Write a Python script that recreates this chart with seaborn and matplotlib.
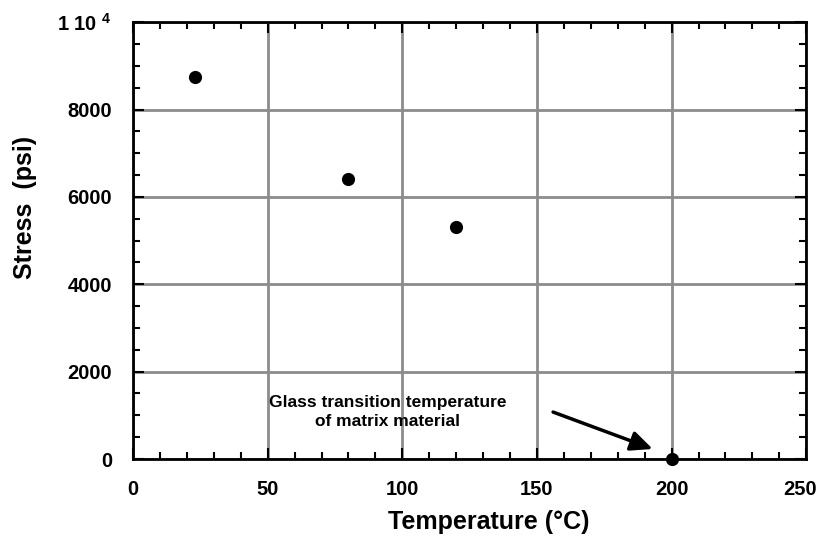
import matplotlib
matplotlib.use("Agg")
import matplotlib.pyplot as plt
import matplotlib.transforms as mtransforms
import seaborn as sns
import pandas as pd
from matplotlib.ticker import MultipleLocator, FixedLocator, FixedFormatter

temperature = [23, 80, 120, 200]
stress = [8750, 6400, 5300, 0]
y_ticks = [0, 2000, 4000, 6000, 8000, 10000]
y_tick_labels = ["0", "2000", "4000", "6000", "8000", "1 10 $^{4}$"]
x_ticks = [0, 50, 100, 150, 200, 250]

sns.set_theme(style="white")
plt.rcParams['font.family'] = ['Liberation Sans', 'DejaVu Sans']
plt.rcParams['mathtext.fontset'] = 'custom'
plt.rcParams['mathtext.rm'] = 'Liberation Sans:bold'
plt.rcParams['mathtext.default'] = 'rm'
for k in ['text.color', 'axes.labelcolor', 'xtick.color', 'ytick.color']:
    plt.rcParams[k] = 'black'

df = pd.DataFrame({"Temperature": temperature, "Stress": stress})

fig = plt.figure(figsize=(8.21, 5.38), dpi=100)
ax = fig.add_axes([0.162, 0.1468, 0.820, 0.812])

sns.scatterplot(data=df, x="Temperature", y="Stress", ax=ax, color="black",
                s=90, edgecolor="black", linewidth=0, clip_on=False, zorder=5)

ax.set_xlim(0, 250)
ax.set_ylim(0, 10000)
ax.xaxis.set_major_locator(FixedLocator(x_ticks))
ax.xaxis.set_minor_locator(MultipleLocator(10))
ax.yaxis.set_major_locator(FixedLocator(y_ticks))
ax.yaxis.set_major_formatter(FixedFormatter(y_tick_labels))
ax.yaxis.set_minor_locator(MultipleLocator(500))

ax.grid(True, which="major", color="#8c8c8c", linewidth=2)
ax.set_axisbelow(True)
for sp in ax.spines.values():
    sp.set_color("black")
    sp.set_linewidth(2)

ax.tick_params(which="both", direction="in", top=True, right=True,
               bottom=True, left=True, color="black", width=1.5)
ax.tick_params(which="major", length=8, labelsize=14.5, pad=15)
ax.tick_params(which="minor", length=5)
for lbl in ax.get_xticklabels() + ax.get_yticklabels():
    lbl.set_fontweight("bold")

# nudge the last x tick label so it stays inside the figure
last = ax.xaxis.get_major_ticks()[-1].label1
last.set_transform(last.get_transform() +
                   mtransforms.ScaledTranslation(-6 / 100, 0, fig.dpi_scale_trans))

ax.set_xlabel("Temperature (°C)", fontsize=18, fontweight="bold")
ax.set_ylabel("Stress  (psi)", fontsize=18, fontweight="bold")
ax.xaxis.set_label_coords(0.528, -0.117)
ax.yaxis.set_label_coords(-0.142, 0.575)

ax.annotate("", xy=(193, 230), xytext=(156, 1075),
            arrowprops=dict(arrowstyle="-|>,head_length=1.1,head_width=0.5",
                            color="black", lw=2.5, shrinkA=0, shrinkB=0))
ax.text(94.5, 1075, "Glass transition temperature\nof matrix material",
        ha="center", va="center", fontsize=12.5, fontweight="bold",
        linespacing=1.35)

fig.savefig("out.png", dpi=100)
